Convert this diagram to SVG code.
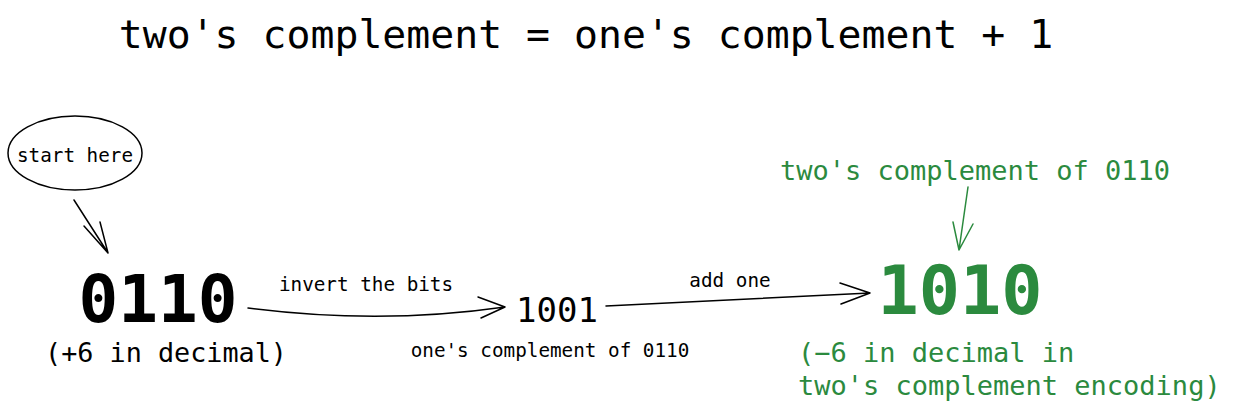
<svg xmlns="http://www.w3.org/2000/svg" width="1234" height="413" viewBox="0 0 1234 413">
<style>
text{font-family:"DejaVu Sans Mono","Liberation Mono",monospace;fill:#000}
.g{fill:#2b8a3e}
.b{font-weight:bold}
.ln{fill:none;stroke:#000;stroke-width:1.5;stroke-linecap:round;stroke-linejoin:round}
.lg{stroke:#2b8a3e}
</style>
<rect width="1234" height="413" fill="#fff"/>
<g id="title"><text x="586" y="48" font-size="39.8" text-anchor="middle">two's complement = one's complement + 1</text></g>
<g id="start">
<ellipse cx="75" cy="153" rx="67" ry="37" class="ln"/>
<text x="75" y="162" font-size="19.3" text-anchor="middle">start here</text>
</g>
<g id="n0110">
<text x="158" y="322" font-size="66" class="b" text-anchor="middle">0110</text>
<text x="166" y="362" font-size="26.8" text-anchor="middle">(+6 in decimal)</text>
</g>
<g id="n1001">
<text x="557" y="322" font-size="34" text-anchor="middle">1001</text>
<text x="550" y="357" font-size="19.3" text-anchor="middle">one's complement of 0110</text>
</g>
<g id="n1010">
<text x="960" y="314" font-size="68.5" class="b g" text-anchor="middle">1010</text>
<text x="975" y="180" font-size="27" class="g" text-anchor="middle">two's complement of 0110</text>
<text x="798" y="362" font-size="27" class="g">(−6 in decimal in</text>
<text x="798" y="395" font-size="27" class="g">two's complement encoding)</text>
</g>
<g id="connectors">
<path class="ln" d="M74 200 L108 253 M84 226 L108 253 L100 222"/>
<path class="ln" d="M248 308 Q380 325 505 307 M478 297 L505 307 L481 318"/>
<text x="366" y="291" font-size="19.3" text-anchor="middle">invert the bits</text>
<path class="ln" d="M606 306 L870 293 M840 283 L870 293 L841 304"/>
<text x="730" y="287" font-size="19.3" text-anchor="middle">add one</text>
<path class="ln lg" d="M968 187 L959 250 M953 222 L959 250 L973 224"/>
</g>
</svg>
